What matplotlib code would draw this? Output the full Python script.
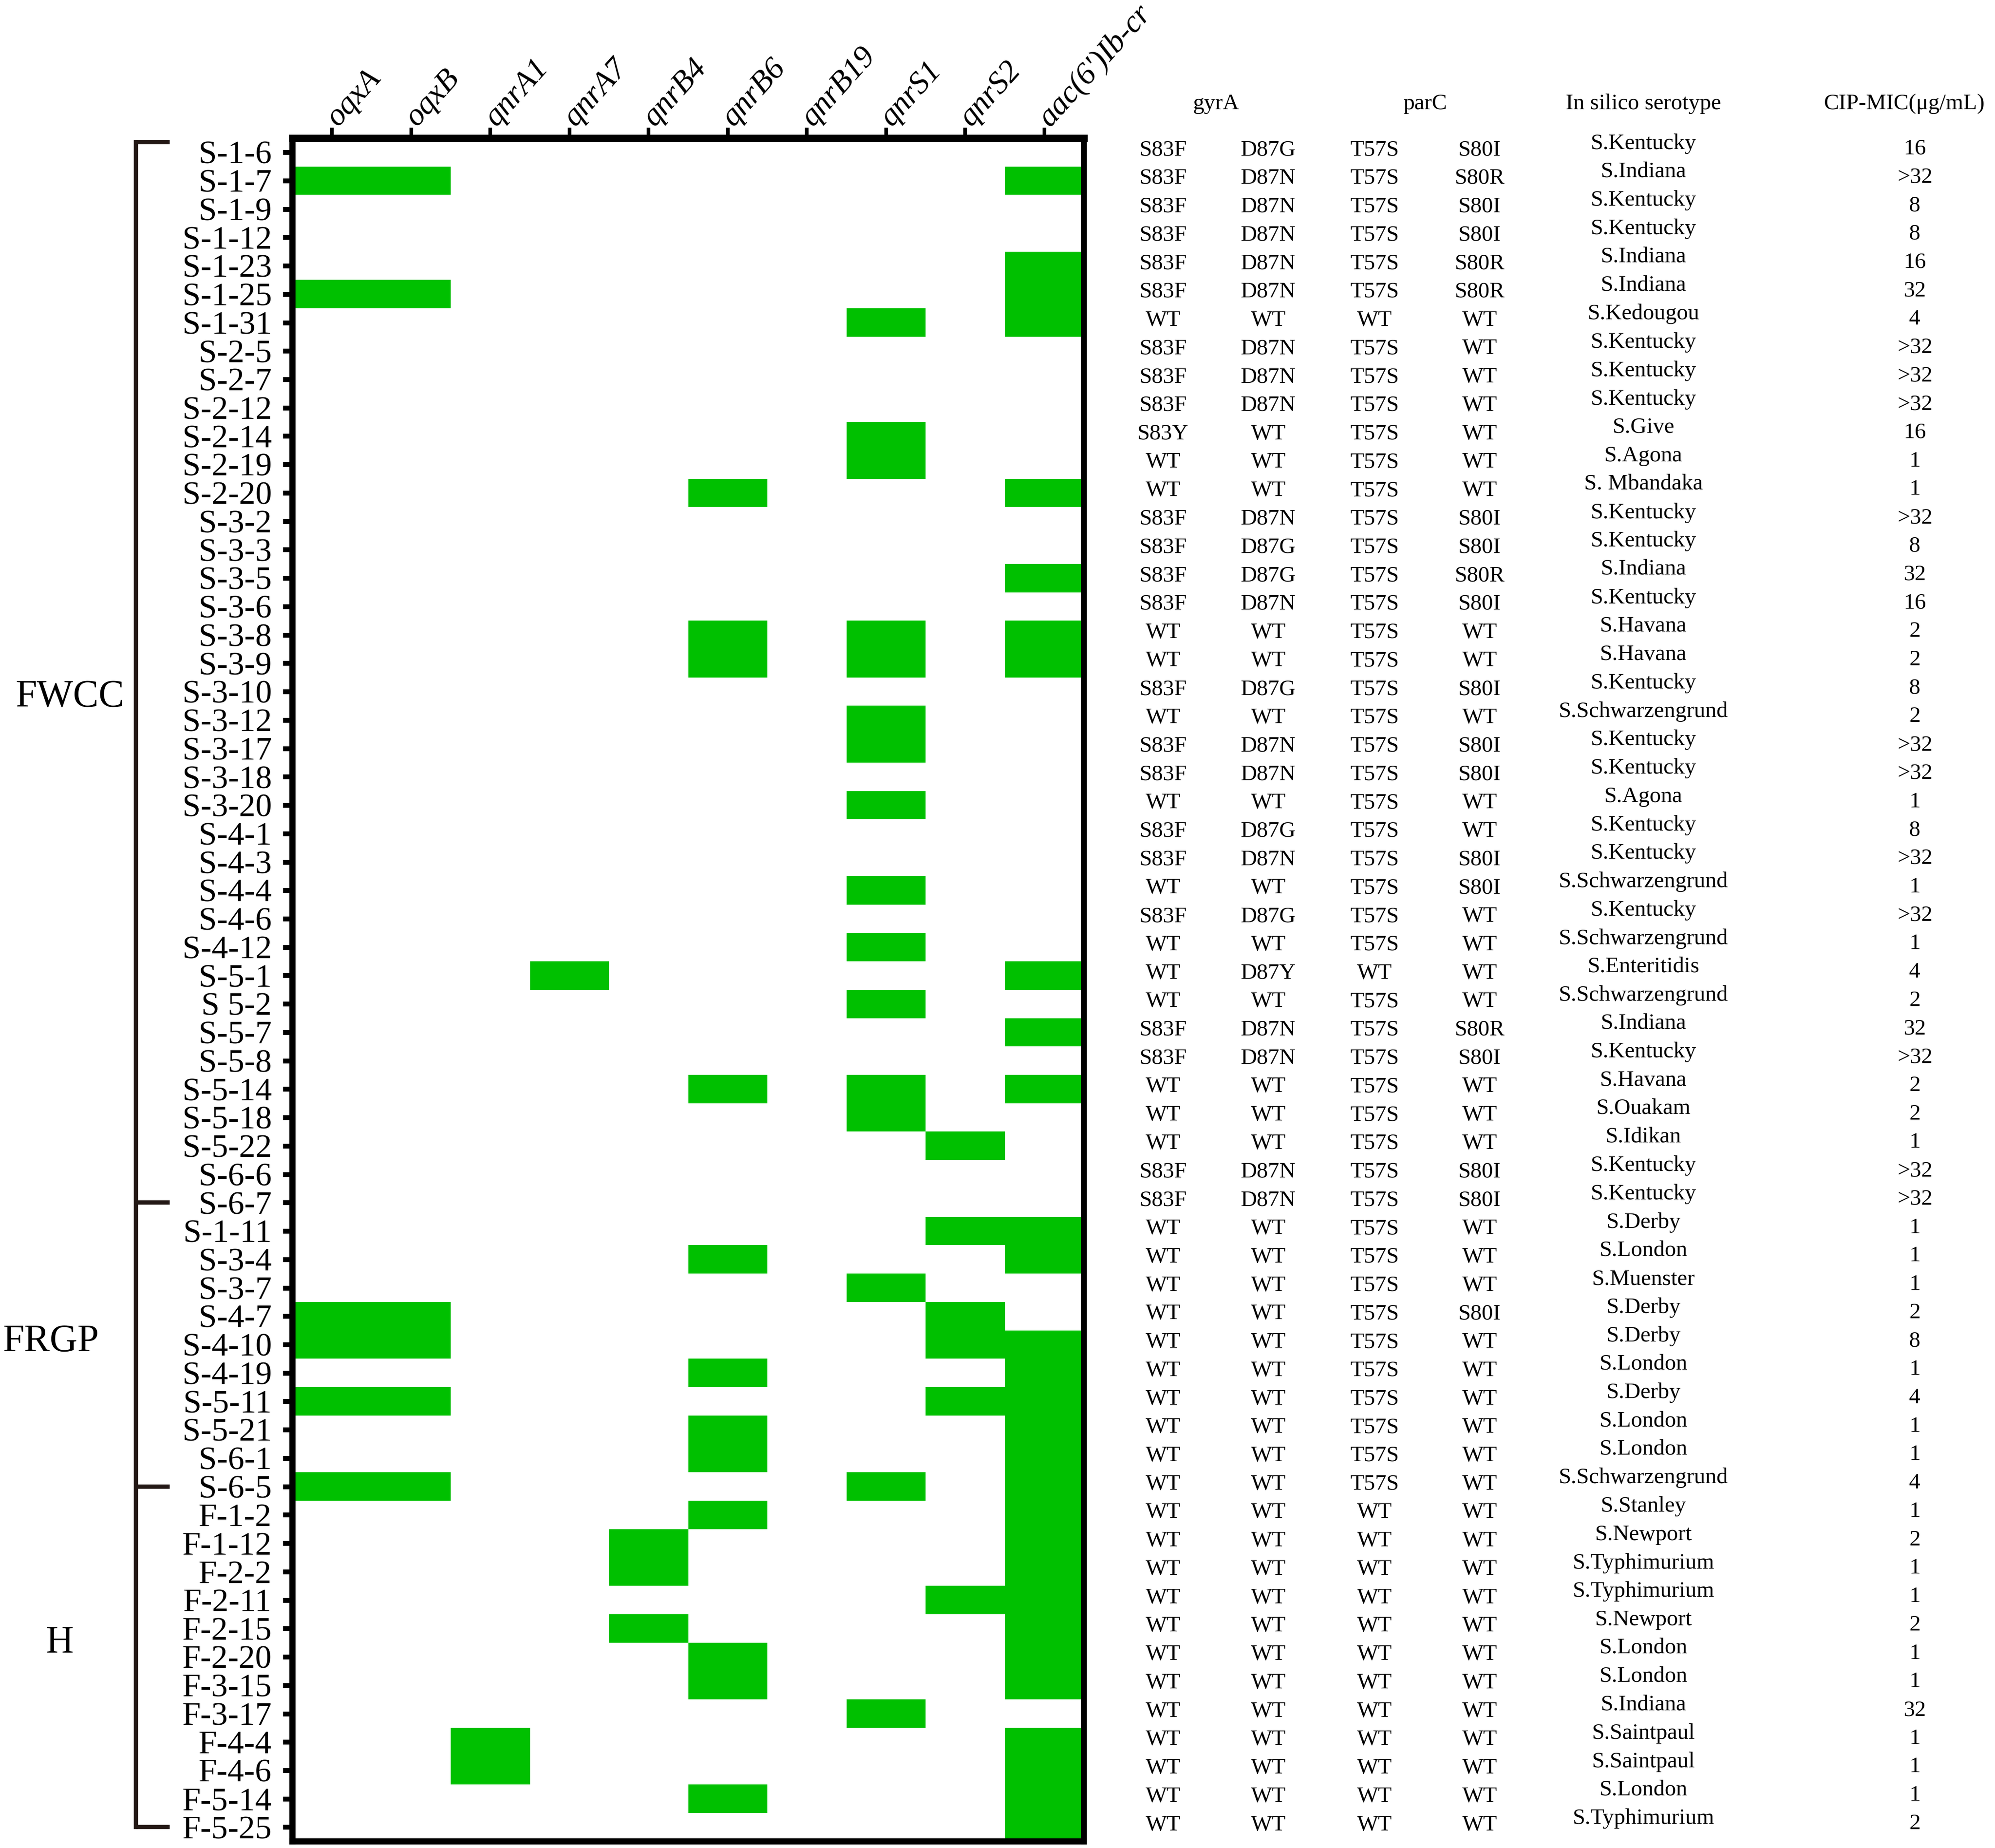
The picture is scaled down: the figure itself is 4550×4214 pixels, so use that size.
import matplotlib
matplotlib.use("Agg")
import matplotlib.pyplot as plt
from matplotlib.colors import ListedColormap
import numpy as np

plt.rcParams['font.family'] = ['Liberation Serif', 'DejaVu Serif']

genes = ["oqxA", "oqxB", "qnrA1", "qnrA7", "qnrB4", "qnrB6", "qnrB19", "qnrS1", "qnrS2", "aac(6')Ib-cr"]

strains = ["S-1-6", "S-1-7", "S-1-9", "S-1-12", "S-1-23", "S-1-25", "S-1-31", "S-2-5", "S-2-7", "S-2-12",
           "S-2-14", "S-2-19", "S-2-20", "S-3-2", "S-3-3", "S-3-5", "S-3-6", "S-3-8", "S-3-9", "S-3-10",
           "S-3-12", "S-3-17", "S-3-18", "S-3-20", "S-4-1", "S-4-3", "S-4-4", "S-4-6", "S-4-12", "S-5-1",
           "S 5-2", "S-5-7", "S-5-8", "S-5-14", "S-5-18", "S-5-22", "S-6-6", "S-6-7",
           "S-1-11", "S-3-4", "S-3-7", "S-4-7", "S-4-10", "S-4-19", "S-5-11", "S-5-21", "S-6-1", "S-6-5",
           "F-1-2", "F-1-12", "F-2-2", "F-2-11", "F-2-15", "F-2-20", "F-3-15", "F-3-17", "F-4-4", "F-4-6",
           "F-5-14", "F-5-25"]

# gene presence per strain (columns in order of `genes`)
presence = [
    "0000000000", "1100000001", "0000000000", "0000000000", "0000000001",
    "1100000001", "0000000101", "0000000000", "0000000000", "0000000000",
    "0000000100", "0000000100", "0000010001", "0000000000", "0000000000",
    "0000000001", "0000000000", "0000010101", "0000010101", "0000000000",
    "0000000100", "0000000100", "0000000000", "0000000100", "0000000000",
    "0000000000", "0000000100", "0000000000", "0000000100", "0001000001",
    "0000000100", "0000000001", "0000000000", "0000010101", "0000000100",
    "0000000010", "0000000000", "0000000000",
    "0000000011", "0000010001", "0000000100", "1100000010", "1100000011",
    "0000010001", "1100000011", "0000010001", "0000010001", "1100000101",
    "0000010001", "0000100001", "0000100001", "0000000011", "0000100001",
    "0000010001", "0000010001", "0000000100", "0010000001", "0010000001",
    "0000010001", "0000000001",
]

gyrA_83 = ["S83F"] * 6 + ["WT"] + ["S83F"] * 3 + ["S83Y", "WT", "WT", "S83F", "S83F", "S83F", "S83F",
           "WT", "WT", "S83F", "WT", "S83F", "S83F", "WT", "S83F", "S83F", "WT", "S83F", "WT", "WT",
           "WT", "S83F", "S83F", "WT", "WT", "WT", "S83F", "S83F"] + ["WT"] * 22
gyrA_87 = ["D87G", "D87N", "D87N", "D87N", "D87N", "D87N", "WT", "D87N", "D87N", "D87N",
           "WT", "WT", "WT", "D87N", "D87G", "D87G", "D87N", "WT", "WT", "D87G",
           "WT", "D87N", "D87N", "WT", "D87G", "D87N", "WT", "D87G", "WT", "D87Y",
           "WT", "D87N", "D87N", "WT", "WT", "WT", "D87N", "D87N"] + ["WT"] * 22
parC_57 = ["T57S"] * 6 + ["WT"] + ["T57S"] * 22 + ["WT"] + ["T57S"] * 18 + ["WT"] * 12
parC_80 = ["S80I", "S80R", "S80I", "S80I", "S80R", "S80R", "WT", "WT", "WT", "WT",
           "WT", "WT", "WT", "S80I", "S80I", "S80R", "S80I", "WT", "WT", "S80I",
           "WT", "S80I", "S80I", "WT", "WT", "S80I", "S80I", "WT", "WT", "WT",
           "WT", "S80R", "S80I", "WT", "WT", "WT", "S80I", "S80I",
           "WT", "WT", "WT", "S80I", "WT", "WT", "WT", "WT", "WT", "WT"] + ["WT"] * 12
serotype = ["S.Kentucky", "S.Indiana", "S.Kentucky", "S.Kentucky", "S.Indiana", "S.Indiana", "S.Kedougou",
            "S.Kentucky", "S.Kentucky", "S.Kentucky", "S.Give", "S.Agona", "S. Mbandaka", "S.Kentucky",
            "S.Kentucky", "S.Indiana", "S.Kentucky", "S.Havana", "S.Havana", "S.Kentucky",
            "S.Schwarzengrund", "S.Kentucky", "S.Kentucky", "S.Agona", "S.Kentucky", "S.Kentucky",
            "S.Schwarzengrund", "S.Kentucky", "S.Schwarzengrund", "S.Enteritidis", "S.Schwarzengrund",
            "S.Indiana", "S.Kentucky", "S.Havana", "S.Ouakam", "S.Idikan", "S.Kentucky", "S.Kentucky",
            "S.Derby", "S.London", "S.Muenster", "S.Derby", "S.Derby", "S.London", "S.Derby", "S.London",
            "S.London", "S.Schwarzengrund", "S.Stanley", "S.Newport", "S.Typhimurium", "S.Typhimurium",
            "S.Newport", "S.London", "S.London", "S.Indiana", "S.Saintpaul", "S.Saintpaul", "S.London",
            "S.Typhimurium"]
cip_mic = ["16", ">32", "8", "8", "16", "32", "4", ">32", ">32", ">32", "16", "1", "1", ">32", "8",
           "32", "16", "2", "2", "8", "2", ">32", ">32", "1", "8", ">32", "1", ">32", "1", "4",
           "2", "32", ">32", "2", "2", "1", ">32", ">32",
           "1", "1", "1", "2", "8", "1", "4", "1", "1", "4",
           "1", "2", "1", "1", "2", "1", "1", "32", "1", "1", "1", "2"]

groups = ["FWCC", "FRGP", "H"]
group_first = [0, 38, 48]
group_last = [37, 47, 59]

GREEN = "#00C000"
fs_row = 54
fs_tab = 37

fig = plt.figure(figsize=(45.5, 42.14), dpi=100)
ax = fig.add_axes([0.1466, 0.0036, 0.3967, 0.9217])

mat = np.array([[int(c) for c in s] for s in presence])
nrow, ncol = mat.shape
ax.pcolormesh(np.arange(ncol + 1) - 0.5, np.arange(nrow + 1) - 0.5, mat,
              cmap=ListedColormap(["white", GREEN]), vmin=0, vmax=1)
ax.set_xlim(-0.5, ncol - 0.5)
ax.set_ylim(nrow - 0.5, -0.5)

for s in ax.spines.values():
    s.set_linewidth(10)
ax.spines['top'].set_linewidth(12)

ax.xaxis.tick_top()
ax.set_xticks(range(ncol))
ax.set_xticklabels(genes, rotation=48, ha='left', va='center', rotation_mode='anchor',
                   fontsize=52, style='italic')
ax.tick_params(axis='x', length=17, width=6, pad=9, direction='out')
ax.set_yticks(range(nrow))
ax.set_yticklabels(strains, fontsize=fs_row)
ax.tick_params(axis='y', length=16, width=8, pad=18, direction='out')

# table
col_x = [10.5, 11.83, 13.17, 14.5]
for i in range(nrow):
    for x, arr in zip(col_x, [gyrA_83, gyrA_87, parC_57, parC_80]):
        ax.text(x, i - 0.08, arr[i], ha='center', va='center', fontsize=fs_tab, clip_on=False)
    ax.text(16.57, i - 0.3, serotype[i], ha='center', va='center', fontsize=fs_tab, clip_on=False)
    ax.text(20.0, i - 0.12, cip_mic[i], ha='center', va='center', fontsize=fs_tab, clip_on=False)

hy = -1.7
ax.text(11.17, hy, "gyrA", ha='center', va='center', fontsize=fs_tab, clip_on=False)
ax.text(13.81, hy, "parC", ha='center', va='center', fontsize=fs_tab, clip_on=False)
ax.text(16.57, hy, "In silico serotype", ha='center', va='center', fontsize=fs_tab, clip_on=False)
ax.text(19.87, hy, "CIP-MIC(\u03bcg/mL)", ha='center', va='center', fontsize=fs_tab, clip_on=False)

# group bracket
bx, bx2 = -2.48, -2.05
bcol = "#231815"
ax.plot([bx, bx], [-0.35, nrow - 1], color=bcol, lw=7, clip_on=False, solid_capstyle='projecting')
for yb in [-0.35, group_last[0], group_last[1], group_last[2]]:
    ax.plot([bx, bx2], [yb, yb], color=bcol, lw=7, clip_on=False, solid_capstyle='butt')

group_y = [19.2, 41.9, 52.5]
group_x = [-3.31, -3.55, -3.44]
for g, gx, gy in zip(groups, group_x, group_y):
    ax.text(gx, gy, g, ha='center', va='center', fontsize=63, clip_on=False)

fig.savefig("out.png", dpi=100)
